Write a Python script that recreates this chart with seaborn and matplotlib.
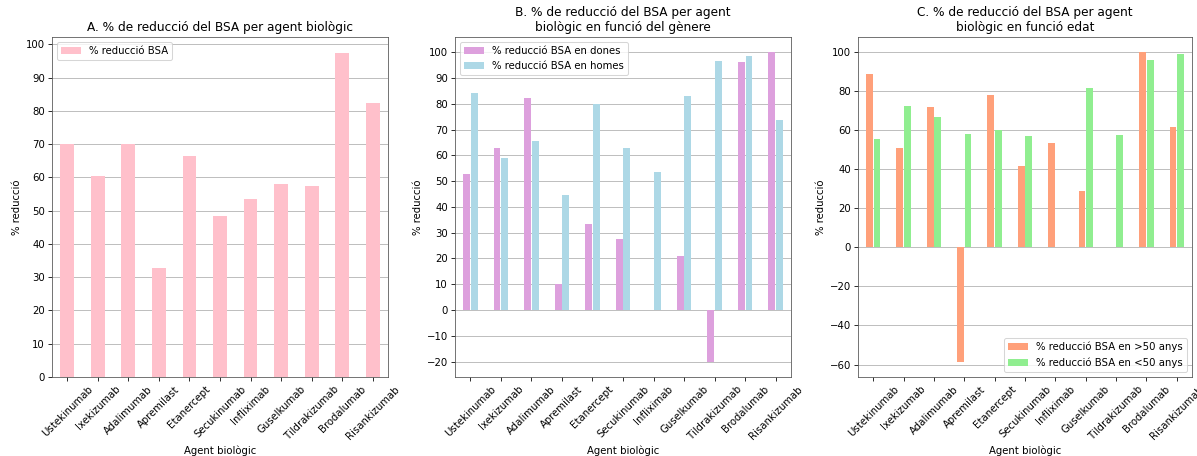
import numpy as np
import pandas as pd
import matplotlib
matplotlib.use("Agg")
import matplotlib.pyplot as plt
import seaborn as sns

agents = ["Ustekinumab", "Ixekizumab", "Adalimumab", "Apremilast", "Etanercept",
          "Secukinumab", "Infliximab", "Guselkumab", "Tildrakizumab", "Brodalumab",
          "Risankizumab"]

reduccio_total = [70.0, 60.3, 70.0, 32.8, 66.4, 48.3, 53.4, 58.0, 57.5, 97.4, 82.5]

reduccio_dones = [52.8, 63.0, 82.3, 10.2, 33.2, 27.7, np.nan, 20.9, -20.0, 96.3, 100.0]
reduccio_homes = [84.0, 59.0, 65.7, 44.5, 80.0, 62.8, 53.7, 83.0, 96.6, 98.5, 73.8]

reduccio_majors50 = [89.0, 51.0, 72.0, -58.5, 78.0, 41.5, 53.3, 29.0, np.nan, 100.0, 61.5]
reduccio_menors50 = [55.5, 72.2, 67.0, 58.0, 60.0, 57.0, np.nan, 81.5, 57.5, 96.0, 99.0]

lab_total = "% reducció BSA"
lab_dones = "% reducció BSA en dones"
lab_homes = "% reducció BSA en homes"
lab_maj = "% reducció BSA en >50 anys"
lab_men = "% reducció BSA en <50 anys"


def long_df(series):
    rows = []
    for lab, vals in series:
        for a, v in zip(agents, vals):
            rows.append({"agent": a, "serie": lab, "valor": v})
    return pd.DataFrame(rows)


plt.rcParams["font.family"] = ["DejaVu Sans"]
DPI = 72.5
W, H = 1198, 456
fig = plt.figure(figsize=(W / DPI, H / DPI), dpi=DPI)


def add_ax(l, r):
    return fig.add_axes([l / W, 1 - 377 / H, (r - l) / W, (377 - 36.7) / H])


axA = add_ax(52, 388)
axB = add_ax(455, 791)
axC = add_ax(858, 1192)

# Panel A
dfA = long_df([(lab_total, reduccio_total)])
sns.barplot(data=dfA, x="agent", y="valor", hue="serie", palette=["pink"],
            width=0.45, ax=axA, order=agents, saturation=1)
axA.set_title("A. % de reducció del BSA per agent biològic")
axA.legend(loc="upper left")
axA.set_yticks(np.arange(0, 101, 10))

# Panel B
dfB = long_df([(lab_dones, reduccio_dones), (lab_homes, reduccio_homes)]).dropna()
sns.barplot(data=dfB, x="agent", y="valor", hue="serie",
            hue_order=[lab_dones, lab_homes], palette=["plum", "lightblue"],
            width=0.5, gap=0.1, ax=axB, order=agents, saturation=1)
axB.set_title("B. % de reducció del BSA per agent\nbiològic en funció del gènere")
axB.legend(loc="upper left")
axB.set_yticks(np.arange(-20, 101, 10))

# Panel C
dfC = long_df([(lab_maj, reduccio_majors50), (lab_men, reduccio_menors50)]).dropna()
sns.barplot(data=dfC, x="agent", y="valor", hue="serie",
            hue_order=[lab_maj, lab_men], palette=["lightsalmon", "lightgreen"],
            width=0.5, gap=0.1, ax=axC, order=agents, saturation=1)
axC.set_title("C. % de reducció del BSA per agent\nbiològic en funció edat")
axC.legend(loc="lower right")
axC.set_yticks(np.arange(-60, 101, 20))

for ax in (axA, axB, axC):
    ax.set_xlim(-0.5, len(agents) - 0.5)
    ax.set_xlabel("Agent biològic")
    ax.set_ylabel("% reducció")
    ax.yaxis.grid(True, color="#b0b0b0", linewidth=0.8)
    ax.set_axisbelow(True)
    ax.tick_params(axis="x", rotation=45)
    for lbl in ax.get_xticklabels():
        lbl.set_ha("center")
    for s in ax.spines.values():
        s.set_edgecolor("#555555")

axA.set_ylim(0, 102.3)
axB.set_ylim(-26, 106)
axC.set_ylim(-66.4, 107.9)

fig.savefig("out.png", dpi=DPI)
